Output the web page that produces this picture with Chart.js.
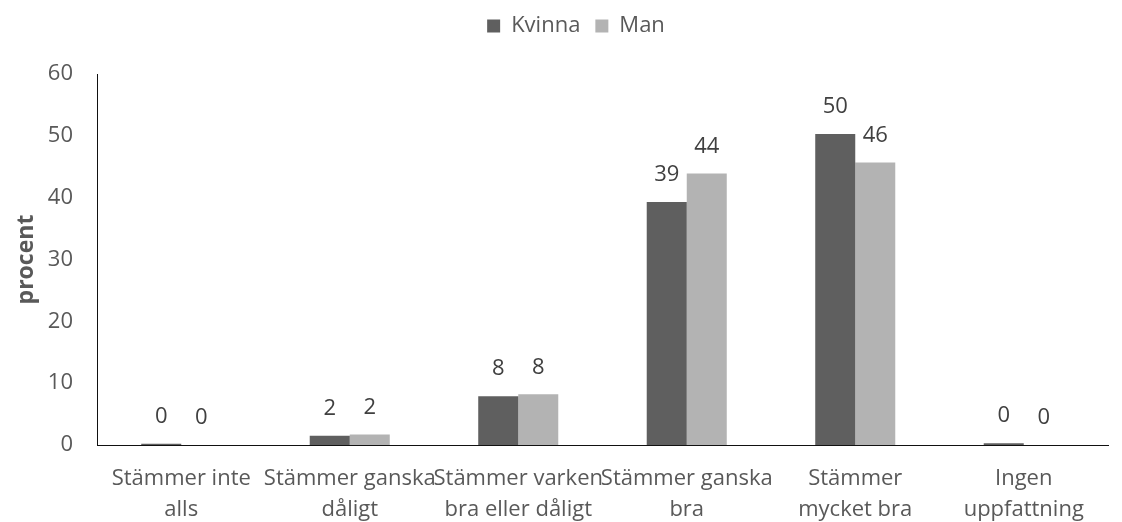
<!DOCTYPE html>
<html>
<head>
<meta charset="utf-8">
<script src="https://cdn.jsdelivr.net/npm/chart.js@4.4.1/dist/chart.umd.min.js"></script>
<style>
  html, body { margin: 0; padding: 0; background: #ffffff; }
  #wrap { width: 1122px; height: 522px; }
</style>
</head>
<body>
<div id="wrap"><canvas id="c" width="1122" height="522"></canvas></div>
<script>
const categories = [
  ['Stämmer inte', 'alls'],
  ['Stämmer ganska', 'dåligt'],
  ['Stämmer varken', 'bra eller dåligt'],
  ['Stämmer ganska', 'bra'],
  ['Stämmer', 'mycket bra'],
  ['Ingen', 'uppfattning']
];
const kvinna = [0.2, 1.5, 7.9, 39.3, 50.3, 0.3];
const man = [0.0, 1.7, 8.2, 43.9, 45.7, 0.0];
const yTicks = [0, 10, 20, 30, 40, 50, 60];

const FONT = "'Open Sans', sans-serif";
const TEXT = '#595959';

const dataLabels = {
  id: 'dataLabels',
  afterDatasetsDraw(chart) {
    const ctx = chart.ctx;
    ctx.save();
    ctx.font = "22px " + FONT;
    ctx.fillStyle = '#404040';
    ctx.textAlign = 'center';
    ctx.textBaseline = 'middle';
    chart.data.datasets.forEach((ds, i) => {
      const meta = chart.getDatasetMeta(i);
      meta.data.forEach((el, j) => {
        ctx.fillText(String(Math.round(ds.data[j])), el.x, el.y - 27);
      });
    });
    ctx.restore();
  }
};

const legendSpace = {
  id: 'legendSpace',
  beforeInit(chart) {
    if (!chart.legend) return;
    const fit = chart.legend.fit;
    chart.legend.fit = function () {
      fit.bind(chart.legend)();
      this.height += 27;
    };
  },
  afterLayout(chart) {
    if (!chart.legend) return;
    chart.legend.left += 22;
    chart.legend.right += 22;
  }
};

new Chart(document.getElementById('c'), {
  type: 'bar',
  data: {
    labels: categories,
    datasets: [
      { label: 'Kvinna', data: kvinna, backgroundColor: '#5f5f5f', borderWidth: 0 },
      { label: 'Man', data: man, backgroundColor: '#b3b3b3', borderWidth: 0 }
    ]
  },
  options: {
    responsive: false,
    animation: false,
    devicePixelRatio: 1,
    layout: { padding: { left: 0, right: 14, top: 0, bottom: 0 } },
    datasets: { bar: { categoryPercentage: 0.475, barPercentage: 1.0 } },
    plugins: {
      legend: {
        position: 'top',
        labels: {
          boxWidth: 13, boxHeight: 13, padding: 15,
          color: TEXT, font: { family: FONT, size: 22 }
        }
      },
      tooltip: { enabled: false }
    },
    scales: {
      x: {
        grid: { display: false, drawTicks: false },
        border: { display: true, color: '#111111', width: 1 },
        ticks: {
          color: TEXT, font: { family: FONT, size: 22, lineHeight: 1.43 },
          maxRotation: 0, minRotation: 0, autoSkip: false, padding: 18
        },
        afterFit(s) { s.height = 77; }
      },
      y: {
        min: 0, max: 60,
        afterBuildTicks(s) { s.ticks = yTicks.map(v => ({ value: v })); },
        grid: { display: false, drawTicks: false },
        border: { display: true, color: '#111111', width: 1 },
        ticks: { color: TEXT, font: { family: FONT, size: 22 }, padding: 24 },
        title: {
          display: true, text: 'procent', color: TEXT,
          font: { family: FONT, size: 23, weight: 'bold' },
          padding: { top: 13, bottom: 0 }
        },
        afterFit(s) { s.width = 97; }
      }
    }
  },
  plugins: [dataLabels, legendSpace]
});
</script>
</body>
</html>
